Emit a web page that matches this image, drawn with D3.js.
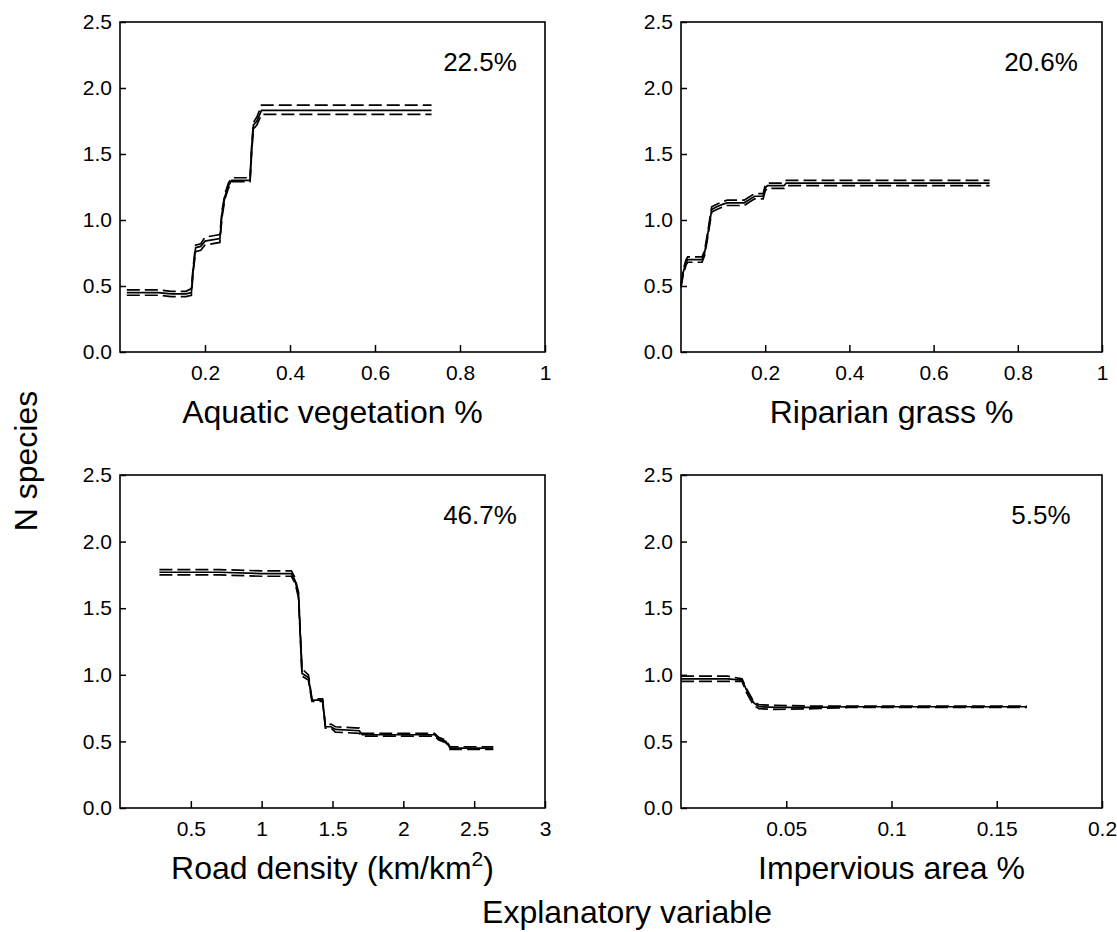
<!DOCTYPE html>
<meta charset="utf-8">
<style>
  body { margin: 0; background: #fff; }
  text { font-family: "Liberation Sans", Arial, sans-serif; fill: #000; }
</style>
<svg width="1117" height="932"></svg>
<script src="https://cdn.jsdelivr.net/npm/d3@7"></script>
<script>

// aquatic vegetation %
var aquaX  = [0.016, 0.09, 0.12, 0.155, 0.168, 0.172, 0.178, 0.19, 0.20, 0.235, 0.24, 0.247, 0.255, 0.263, 0.306, 0.31, 0.314, 0.322, 0.333, 0.733];
var aquaY  = [0.45, 0.45, 0.44, 0.44, 0.45, 0.62, 0.79, 0.80, 0.84, 0.86, 1.05, 1.18, 1.26, 1.30, 1.30, 1.55, 1.72, 1.75, 1.83, 1.83];
var aquaLo = [0.43, 0.43, 0.42, 0.42, 0.43, 0.60, 0.76, 0.77, 0.81, 0.83, 1.02, 1.16, 1.24, 1.29, 1.29, 1.52, 1.69, 1.72, 1.80, 1.80];
var aquaHi = [0.47, 0.47, 0.46, 0.46, 0.48, 0.64, 0.81, 0.82, 0.87, 0.89, 1.07, 1.20, 1.28, 1.32, 1.32, 1.57, 1.74, 1.78, 1.87, 1.87];

// riparian grass %
var ripX  = [0, 0.005, 0.012, 0.016, 0.05, 0.056, 0.062, 0.068, 0.073, 0.085, 0.10, 0.11, 0.15, 0.16, 0.175, 0.195, 0.20, 0.205, 0.245, 0.25, 0.733];
var ripY  = [0.50, 0.60, 0.68, 0.70, 0.70, 0.75, 0.86, 0.98, 1.08, 1.10, 1.12, 1.13, 1.13, 1.15, 1.18, 1.18, 1.24, 1.26, 1.26, 1.28, 1.28];
var ripLo = [0.49, 0.58, 0.66, 0.68, 0.68, 0.73, 0.84, 0.96, 1.06, 1.08, 1.10, 1.11, 1.11, 1.13, 1.16, 1.16, 1.22, 1.24, 1.24, 1.26, 1.26];
var ripHi = [0.51, 0.62, 0.70, 0.72, 0.72, 0.77, 0.88, 1.00, 1.10, 1.12, 1.14, 1.15, 1.15, 1.17, 1.20, 1.20, 1.26, 1.28, 1.28, 1.30, 1.30];

// road density
var roadX  = [0.278, 0.7, 1.0, 1.21, 1.235, 1.26, 1.285, 1.30, 1.33, 1.355, 1.43, 1.45, 1.49, 1.52, 1.69, 1.71, 2.22, 2.25, 2.30, 2.33, 2.635];
var roadY  = [1.77, 1.77, 1.76, 1.76, 1.71, 1.60, 1.01, 1.00, 0.98, 0.81, 0.81, 0.61, 0.61, 0.59, 0.58, 0.55, 0.55, 0.52, 0.50, 0.45, 0.45];
var roadLo = [1.75, 1.75, 1.74, 1.74, 1.69, 1.58, 0.99, 0.98, 0.96, 0.80, 0.80, 0.60, 0.60, 0.57, 0.56, 0.54, 0.54, 0.51, 0.49, 0.44, 0.44];
var roadHi = [1.79, 1.79, 1.78, 1.78, 1.73, 1.62, 1.04, 1.03, 1.00, 0.82, 0.82, 0.62, 0.63, 0.61, 0.60, 0.56, 0.56, 0.53, 0.51, 0.46, 0.46];

// impervious area %
var impX  = [0, 0.022, 0.029, 0.031, 0.0345, 0.037, 0.045, 0.063, 0.08, 0.1643];
var impY  = [0.97, 0.97, 0.96, 0.89, 0.79, 0.76, 0.755, 0.755, 0.76, 0.76];
var impLo = [0.95, 0.95, 0.95, 0.87, 0.77, 0.745, 0.74, 0.745, 0.755, 0.755];
var impHi = [0.99, 0.99, 0.97, 0.90, 0.80, 0.775, 0.77, 0.765, 0.765, 0.765];

var yTicks = [0, 0.5, 1.0, 1.5, 2.0, 2.5];
var pctLabels = ["22.5%", "20.6%", "46.7%", "5.5%"];

var panels = [
  {x: aquaX, fit: aquaY, lo: aquaLo, hi: aquaHi, xmax: 1,   ticks: [0.2, 0.4, 0.6, 0.8, 1], title: "Aquatic vegetation %", left: 120, top: 22,  w: 425, h: 330},
  {x: ripX,  fit: ripY,  lo: ripLo,  hi: ripHi,  xmax: 1,   ticks: [0.2, 0.4, 0.6, 0.8, 1], title: "Riparian grass %",    left: 681, top: 22,  w: 421, h: 330},
  {x: roadX, fit: roadY, lo: roadLo, hi: roadHi, xmax: 3,   ticks: [0.5, 1, 1.5, 2, 2.5, 3], title: "Road density (km/km", sup: "2", tail: ")", left: 120, top: 475, w: 425, h: 333},
  {x: impX,  fit: impY,  lo: impLo,  hi: impHi,  xmax: 0.2, ticks: [0.05, 0.1, 0.15, 0.2], title: "Impervious area %",   left: 681, top: 475, w: 421, h: 333}
];

var svg = d3.select("svg");

panels.forEach(function(p, i) {
  var g = svg.append("g").attr("transform", "translate(" + p.left + "," + p.top + ")");
  var x = d3.scaleLinear().domain([0, p.xmax]).range([0, p.w]);
  var y = d3.scaleLinear().domain([0, 2.5]).range([p.h, 0]);

  var xAxis = g.append("g").attr("transform", "translate(0," + p.h + ")")
    .call(d3.axisBottom(x).tickValues(p.ticks).tickFormat(d3.format("~g"))
      .tickSizeInner(-7).tickSizeOuter(0).tickPadding(13));
  var yAxis = g.append("g")
    .call(d3.axisLeft(y).tickValues(yTicks).tickFormat(d3.format(".1f"))
      .tickSizeInner(-6).tickSizeOuter(0).tickPadding(8));
  [xAxis, yAxis].forEach(function(a) {
    a.select(".domain").remove();
    a.selectAll("line").attr("stroke", "#000").attr("stroke-width", 1.5);
    a.selectAll("text").style("font-size", "21px").attr("fill", "#000");
  });

  g.append("rect").attr("width", p.w).attr("height", p.h)
    .attr("fill", "none").attr("stroke", "#000").attr("stroke-width", 1.6);

  var idx = d3.range(p.x.length);
  function line(arr) {
    return d3.line().x(function(k) { return x(p.x[k]); }).y(function(k) { return y(arr[k]); })(idx);
  }
  [p.lo, p.hi].forEach(function(arr) {
    g.append("path").attr("d", line(arr)).attr("fill", "none")
      .attr("stroke", "#000").attr("stroke-width", 1.7).attr("stroke-dasharray", "13,5");
  });
  g.append("path").attr("d", line(p.fit)).attr("fill", "none")
    .attr("stroke", "#000").attr("stroke-width", 1.7);

  g.append("text").attr("x", 360).attr("y", 49).attr("text-anchor", "middle")
    .style("font-size", "26px").text(pctLabels[i]);

  var t = g.append("text").attr("x", p.w / 2).attr("y", p.h + 71)
    .attr("text-anchor", "middle").style("font-size", "32px").text(p.title);
  if (p.sup) {
    t.append("tspan").attr("dy", -13).style("font-size", "21px").text(p.sup);
    t.append("tspan").attr("dy", 13).text(p.tail);
  }
});

svg.append("text").attr("transform", "translate(37,461) rotate(-90)")
  .attr("text-anchor", "middle").style("font-size", "32px").text("N species");

svg.append("text").attr("x", 627).attr("y", 923)
  .attr("text-anchor", "middle").style("font-size", "32px").text("Explanatory variable");

</script>
